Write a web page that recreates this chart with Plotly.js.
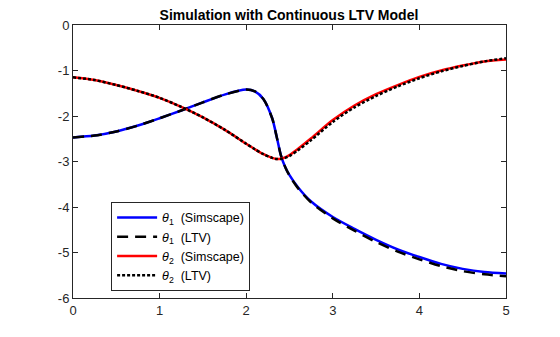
<!DOCTYPE html>
<html><head><meta charset="utf-8">
<script src="https://cdn.plot.ly/plotly-3.0.1.min.js"></script>
<style>html,body{margin:0;padding:0;background:#fff}#c{width:560px;height:337px}</style>
</head><body><div id="c"></div>
<script>
const t = [0, 0.25, 0.5, 0.75, 1.0, 1.25, 1.5, 1.75, 2.0, 2.1, 2.2, 2.3, 2.35, 2.4, 2.45, 2.5, 2.6, 2.75, 3.0, 3.25, 3.5, 3.75, 4.0, 4.25, 4.5, 4.75, 5.0];
const theta1Sim = [-2.47, -2.43, -2.34, -2.21, -2.05, -1.88, -1.70, -1.53, -1.42, -1.46, -1.63, -2.05, -2.44, -2.86, -3.12, -3.30, -3.57, -3.88, -4.22, -4.48, -4.72, -4.93, -5.10, -5.25, -5.36, -5.43, -5.46];
const theta1LTV = [-2.47, -2.43, -2.34, -2.21, -2.05, -1.88, -1.70, -1.53, -1.42, -1.46, -1.63, -2.05, -2.44, -2.86, -3.12, -3.31, -3.59, -3.90, -4.25, -4.52, -4.77, -4.98, -5.15, -5.30, -5.41, -5.48, -5.52];
const theta2Sim = [-1.15, -1.21, -1.32, -1.45, -1.60, -1.80, -2.03, -2.30, -2.61, -2.73, -2.84, -2.92, -2.945, -2.94, -2.91, -2.86, -2.72, -2.49, -2.09, -1.77, -1.52, -1.32, -1.14, -1.00, -0.89, -0.80, -0.76];
const theta2LTV = [-1.15, -1.21, -1.32, -1.45, -1.60, -1.80, -2.03, -2.30, -2.61, -2.73, -2.84, -2.92, -2.945, -2.945, -2.92, -2.88, -2.75, -2.53, -2.13, -1.81, -1.56, -1.35, -1.17, -1.02, -0.90, -0.80, -0.73];
const xTicks = [0, 1, 2, 3, 4, 5];
const yTicks = [0, -1, -2, -3, -4, -5, -6];
const yTickText = ['0', '-1', '-2', '-3', '-4', '-5', '-6'];

const nb = '\u00a0\u00a0';
const data = [
  {x: t, y: theta1Sim, mode: 'lines', name: '<i>θ</i><sub>1</sub>' + nb + '(Simscape)', line: {color: '#0000ff', width: 2.5, shape: 'spline', smoothing: 0.8}},
  {x: t, y: theta1LTV, mode: 'lines', name: '<i>θ</i><sub>1</sub>' + nb + '(LTV)', line: {color: '#000000', width: 2.5, dash: '11px,7px', shape: 'spline', smoothing: 0.8}},
  {x: t, y: theta2Sim, mode: 'lines', name: '<i>θ</i><sub>2</sub>' + nb + '(Simscape)', line: {color: '#ff0000', width: 2.5, shape: 'spline', smoothing: 0.8}},
  {x: t, y: theta2LTV, mode: 'lines', name: '<i>θ</i><sub>2</sub>' + nb + '(LTV)', line: {color: '#000000', width: 2.5, dash: '3px,2px', shape: 'spline', smoothing: 0.8}}
];
const axCommon = {showgrid: false, zeroline: false, showline: true, linecolor: '#262626', linewidth: 1,
  mirror: 'allticks', ticks: 'inside', ticklen: 5, tickcolor: '#262626',
  tickfont: {family: 'Liberation Sans, Arial, sans-serif', size: 13, color: '#262626'}};
const layout = {
  width: 560, height: 337,
  margin: {l: 73, r: 54, t: 25, b: 39},
  paper_bgcolor: '#fff', plot_bgcolor: '#fff',
  title: {text: '<b>Simulation with Continuous LTV Model</b>', x: 0.516, xanchor: 'center', y: 0.955, yanchor: 'middle',
    font: {family: 'Liberation Sans, Arial, sans-serif', size: 14, color: '#000'}},
  xaxis: Object.assign({}, axCommon, {range: [0, 5], tickvals: xTicks, ticktext: xTicks.map(String)}),
  yaxis: Object.assign({}, axCommon, {range: [-6, 0], tickvals: yTicks, ticktext: yTickText}),
  showlegend: true,
  legend: {x: 0.088, y: 0.026, xanchor: 'left', yanchor: 'bottom', bgcolor: '#fff', bordercolor: '#262626', borderwidth: 1,
    font: {family: 'Liberation Sans, Arial, sans-serif', size: 12.5, color: '#000'}, tracegroupgap: 0, itemwidth: 40}
};
Plotly.newPlot('c', data, layout, {displayModeBar: false, staticPlot: true});
</script></body></html>
